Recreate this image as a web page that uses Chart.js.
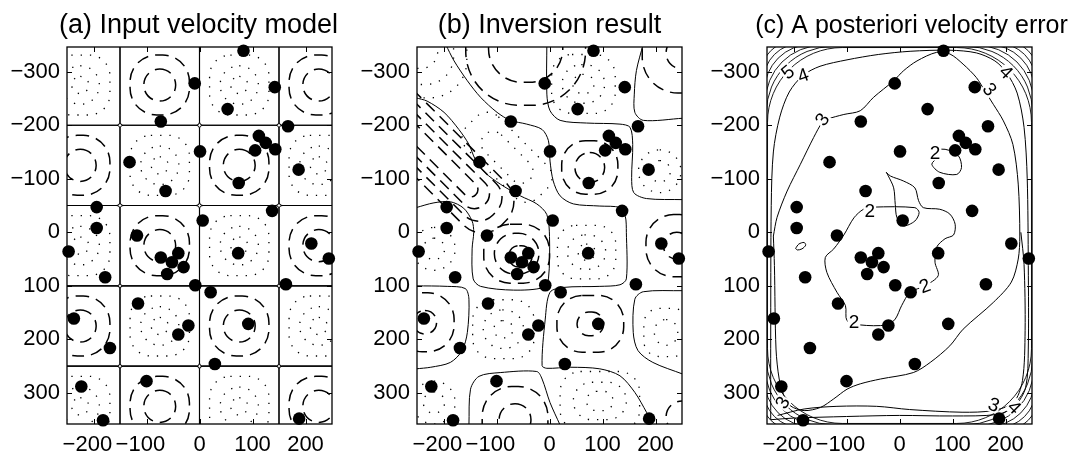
<!DOCTYPE html>
<html>
<head>
<meta charset="utf-8">
<script src="https://cdn.jsdelivr.net/npm/chart.js@4.4.1/dist/chart.umd.min.js"></script>
<style>
  html, body { margin: 0; padding: 0; background: #fff; }
  #wrap { position: relative; width: 1076px; height: 460px; }
  canvas { position: absolute; top: 0; }
</style>
</head>
<body>
<div id="wrap">
  <canvas id="panelA" width="350" height="460" style="left:0"></canvas>
  <canvas id="panelB" width="350" height="460" style="left:350px"></canvas>
  <canvas id="panelC" width="376" height="460" style="left:700px"></canvas>
</div>
<script>
// axes
var xTicks = [-200, -100, 0, 100, 200];
var yTicks = [-300, -200, -100, 0, 100, 200, 300];
var xRange = [-250, 250];
var yRange = [-346, 358];

// station positions (same in all three panels)
var stationX = [83, -9, 142, 53, -73, 167, 112, 125, 143, 105, 1, -132, 187, 74, -64, -194, 137, 6, -194, -118,
                -247, 211, 244, 73, -40, -73, -52, -30, -61, -178, -8, 163, 21, -116, -237, -21, 92, -40, -169, 29,
                -100, -223, -182, 188];
var stationY = [-339, -278, -271, -230, -207, -198, -180, -167, -155, -153, -151, -131, -117, -92, -77, -47, -40, -22, -8, 6,
                36, 21, 49, 39, 39, 47, 56, 65, 78, 84, 99, 97, 112, 133, 161, 174, 171, 191, 216, 246,
                278, 288, 351, 348];

// (a) checkerboard model: cell centres, cell edges, contour radii
var cellX = [-225, -75, 75, 225];
var cellY = [-275, -125, 25, 175, 325];
var cellEdgeX = [-300, -150, 0, 150, 300];
var cellEdgeY = [-350, -200, -50, 100, 250, 400];
var slowRadii = [30, 56];
var fastRadii = [16, 36, 56];

// (b) inversion result: zero contours
var bZero1 = [[-196,-351],[-180,-320],[-155,-283],[-130,-252],[-99,-224],[-74,-209],[-43,-202],[-14,-192],[-2,-171],[1,-133],
              [7,-96],[20,-68],[45,-53],[95,-49],[133,-46],[143,-30],[145,0],[145,87],[133,98],[95,101],[26,103],[1,112],
              [-8,162],[-14,249],[-5,254],[39,252],[95,255],[133,268],[161,299],[183,336],[196,360]];
var bZero2 = [[-5,-352],[-5,-258],[1,-227],[20,-209],[70,-204],[133,-202],[152,-196],[157,-164],[155,-102],[159,-74],[183,-63],[252,-61]];
var bZero3 = [[177,-352],[164,-302],[160,-258],[161,-224],[177,-209],[252,-213]];
var bZero4 = [[-252,-251],[-231,-245],[-199,-224],[-171,-192],[-152,-164],[-140,-136],[-121,-111],[-93,-90],[-55,-68],[-24,-53],
              [-5,-33],[0,8],[-2,87],[-11,103],[-68,108],[-130,101],[-144,87],[-146,31],[-143,0],[-146,-21],[-162,-45],
              [-187,-57],[-218,-55],[-252,-46]];
var bZero5 = [[-252,100],[-193,101],[-159,105],[-152,125],[-155,187],[-165,221],[-187,243],[-224,252],[-252,255]];
var bZero6 = [[-152,360],[-149,293],[-133,269],[-93,262],[-24,260],[-14,274],[1,318],[20,360]];
var bZero7 = [[252,109],[177,111],[161,125],[158,187],[167,221],[195,243],[252,265]];
// (b) negative (dashed) and positive (dotted) closed contours: x, y, rx, ry, rotation
var bSlowRings = [[-210,-140,175,56,45],[-210,-140,150,42,45],[-210,-140,125,28,45],[-210,-140,100,14,45],
                  [-45,-350,113,113,0],[-45,-350,70,70,0],
                  [250,-335,75,75,0],[250,-335,30,30,0],
                  [76,-121,53,50,0],[76,-121,28,28,0],
                  [-62,40,62,55,0],[-62,40,42,38,0],[-55,45,22,20,0],
                  [77,171,63,53,0],[77,171,25,22,0],
                  [-235,168,55,55,0],[-235,168,22,22,0],
                  [-65,350,62,62,0],[-65,350,30,30,0],
                  [240,25,58,58,0],[240,25,25,25,0],
                  [250,345,30,30,0]];
var bFastRings = [[64,-277,60,55,0],[64,-277,40,36,0],[64,-277,20,18,0],
                  [-256,-351,100,100,0],[-256,-351,75,75,0],[-256,-351,45,45,0],
                  [-80,-140,95,42,45],[-80,-140,60,22,45],
                  [208,-114,40,40,0],[208,-114,20,20,0],
                  [70,37,55,50,0],[70,37,36,32,0],[70,37,16,15,0],
                  [-87,181,58,55,0],[-87,181,38,36,0],[-87,181,18,16,0],
                  [220,187,42,45,0],[220,187,22,24,0],
                  [-218,31,40,40,0],[-218,31,20,20,0],
                  [-218,318,40,40,0],[-218,318,20,20,0],
                  [95,315,75,55,0],[95,315,50,35,0],[95,315,25,18,0]];

// (c) a posteriori error contours
var cLevel2a = [[58,-152],[86,-155],[111,-143],[117,-121],[108,-108],[76,-112],[61,-127],[70,-140],[58,-152]];
var cLevel2b = [[-25,-112],[-17,-105],[7,-96],[29,-83],[36,-59],[45,-46],[76,-43],[95,-34],[105,-15],[102,5],[86,12],
                [70,28],[67,56],[73,81],[48,100],[20,112],[4,137],[-8,162],[-24,173],[-74,173],[-99,165],[-102,137],
                [-118,112],[-137,75],[-140,47],[-124,31],[-105,5],[-86,-27],[-68,-43],[-49,-47],[29,-46],[37,-37],
                [29,-21],[7,-12],[-5,-28],[-8,-52],[-11,-83],[-21,-105],[-25,-112]];
var cLevel2c = [[-196,30],[-190,22],[-180,19],[-177,24],[-184,31],[-193,33],[-196,30]];
var cLevel3 = [[-238,7],[-231,-28],[-212,-77],[-187,-127],[-162,-177],[-146,-205],[-137,-211],[-105,-220],[-74,-227],
               [-49,-252],[-11,-283],[8,-302],[33,-320],[70,-336],[95,-333],[120,-314],[145,-289],[161,-264],[177,-239],
               [196,-208],[214,-164],[224,-90],[227,7],[224,50],[211,93],[177,131],[120,181],[95,212],[58,243],[26,262],
               [-36,274],[-74,283],[-99,293],[-124,311],[-149,327],[-180,333],[-206,324],[-218,305],[-227,274],
               [-233,218],[-236,62],[-238,7]];
var cLevel3b = [[-230,342],[-180,330],[-118,325],[-43,325],[19,331],[118,336],[175,333],[215,318],[232,277],[237,183],
                [235,60],[229,0]];
var cLevel4 = [[-243,350],[-243,200],[-242,-50],[-238,-150],[-226,-215],[-208,-262],[-182,-293],[-150,-310],[-99,-322],
               [-40,-332],[20,-338],[95,-340],[145,-335],[180,-320],[202,-298],[222,-260],[235,-196],[241,-100],
               [243,62],[243,218],[238,290],[217,325],[185,340],[100,343],[0,342],[-100,344],[-200,347],[-243,350]];
var cEdgeInset = [1, -1, -3, -5, -7, -9];
var cEdgeRadius = [141, 124, 107, 89, 72, 55];
var cLabels = [['2',67,-149,0],['2',-56,-40,0],['2',48,100,-20],['2',-86,167,0],
               ['3',-146,-211,-55],['3',170,-267,50],['3',-221,318,-60],['3',178,322,20],
               ['4',-182,-293,-20],['4',201,-299,45],['4',217,327,45],['5',-211,-299,-40]];

var titles = ['(a) Input velocity model', '(b) Inversion result', '(c) A posteriori velocity error'];

var family = '"Liberation Sans", Arial, Helvetica, sans-serif';
var lineStyles = {
    solid:  { width: 1.1, dash: [] },
    thin:   { width: 0.9, dash: [] },
    dashed: { width: 1.5, dash: [12, 7] },
    dotted: { width: 1.3, dash: [1.3, 8] }
};

function roundedRect(ctx, x, y, w, h, r) {
    r = Math.min(r, w / 2, h / 2);
    ctx.moveTo(x + r, y);
    ctx.arcTo(x + w, y, x + w, y + h, r);
    ctx.arcTo(x + w, y + h, x, y + h, r);
    ctx.arcTo(x, y + h, x, y, r);
    ctx.arcTo(x, y, x + w, y, r);
    ctx.closePath();
}

function ringShape(r, style) {
    var m = Math.min(r[2], r[3]);
    var k = m <= 40 ? 1 : (style === 'dashed' ? 0.9 : 0.7);
    return { x: r[0], y: r[1], rx: r[2], ry: r[3], rot: r[4], corner: m * k, style: style };
}

// contours, frame, ticks and title drawn through the chart's scales
function panelLayer(spec) {
    return {
        id: 'panelLayer',
        beforeDatasetsDraw: function (chart) {
            var ctx = chart.ctx, a = chart.chartArea;
            var sx = chart.scales.x, sy = chart.scales.y;
            var len = function (v, s) { return Math.abs(s.getPixelForValue(v) - s.getPixelForValue(0)); };
            ctx.save();
            ctx.beginPath();
            ctx.rect(a.left, a.top, a.right - a.left, a.bottom - a.top);
            ctx.clip();
            ctx.strokeStyle = '#000';
            spec.shapes.forEach(function (sh) {
                var st = lineStyles[sh.style];
                ctx.beginPath();
                ctx.save();
                ctx.translate(sx.getPixelForValue(sh.x), sy.getPixelForValue(sh.y));
                ctx.rotate((sh.rot || 0) * Math.PI / 180);
                var w = len(sh.rx, sx), h = len(sh.ry, sy);
                roundedRect(ctx, -w, -h, 2 * w, 2 * h, len(sh.corner, sx));
                ctx.restore();
                ctx.lineWidth = st.width;
                ctx.setLineDash(st.dash);
                ctx.stroke();
            });
            ctx.restore();

            // frame with inward ticks
            ctx.save();
            ctx.strokeStyle = '#000';
            ctx.setLineDash([]);
            ctx.lineWidth = 1.3;
            ctx.strokeRect(a.left, a.top, a.right - a.left, a.bottom - a.top);
            ctx.lineWidth = 1;
            ctx.beginPath();
            xTicks.forEach(function (v) {
                var p = Math.round(sx.getPixelForValue(v)) + 0.5;
                ctx.moveTo(p, a.bottom); ctx.lineTo(p, a.bottom - 5);
                ctx.moveTo(p, a.top); ctx.lineTo(p, a.top + 5);
            });
            yTicks.forEach(function (v) {
                var p = Math.round(sy.getPixelForValue(v)) + 0.5;
                ctx.moveTo(a.left, p); ctx.lineTo(a.left + 5, p);
                ctx.moveTo(a.right, p); ctx.lineTo(a.right - 5, p);
            });
            ctx.stroke();
            ctx.restore();
        },
        beforeDatasetDraw: function (chart, args) {
            // contour labels go under the station dots (dataset 0)
            if (args.index !== 0 || !spec.labels) return;
            var ctx = chart.ctx, sx = chart.scales.x, sy = chart.scales.y;
            ctx.save();
            ctx.font = '19px ' + family;
            ctx.textAlign = 'center';
            ctx.textBaseline = 'middle';
            spec.labels.forEach(function (l) {
                ctx.save();
                ctx.translate(sx.getPixelForValue(l[1]), sy.getPixelForValue(l[2]));
                ctx.rotate(l[3] * Math.PI / 180);
                var w = ctx.measureText(l[0]).width;
                ctx.fillStyle = '#fff';
                ctx.fillRect(-w / 2 - 1, -8, w + 2, 16);
                ctx.fillStyle = '#000';
                ctx.fillText(l[0], 0, 1);
                ctx.restore();
            });
            ctx.restore();
        },
        afterDraw: function (chart) {
            var ctx = chart.ctx, a = chart.chartArea;
            ctx.save();
            ctx.font = spec.titleSize + 'px ' + family;
            ctx.fillStyle = '#000';
            ctx.textAlign = 'center';
            ctx.textBaseline = 'alphabetic';
            ctx.fillText(spec.title, (a.left + a.right) / 2 + spec.titleShift, 33);
            ctx.restore();
        }
    };
}

function toPoints(pairs) {
    return pairs.map(function (p) { return { x: p[0], y: p[1] }; });
}

function contourLine(pairs) {
    return {
        data: toPoints(pairs),
        showLine: true,
        pointRadius: 0,
        borderColor: '#000',
        borderWidth: 1,
        tension: 0.3
    };
}

function minusLabel(v, pad) {
    return v < 0 ? '\u2212' + Math.abs(v) + pad : String(v);
}

function makePanel(id, lines, spec, rightPad) {
    var stations = {
        data: stationX.map(function (x, i) { return { x: x, y: stationY[i] }; }),
        pointRadius: 6.3,
        pointBackgroundColor: '#000',
        pointBorderWidth: 0,
        showLine: false,
        clip: false
    };
    var tickFont = { family: family, size: 22 };
    return new Chart(id, {
        type: 'scatter',
        data: { datasets: [stations].concat(lines) },
        options: {
            responsive: false,
            animation: false,
            events: [],
            layout: { padding: { top: 47, right: rightPad, left: 0, bottom: 0 } },
            plugins: { legend: { display: false }, tooltip: { enabled: false } },
            scales: {
                x: {
                    type: 'linear', min: xRange[0], max: xRange[1],
                    afterBuildTicks: function (ax) { ax.ticks = xTicks.map(function (v) { return { value: v }; }); },
                    afterFit: function (s) { s.height = 36; },
                    grid: { display: false, drawTicks: false },
                    border: { display: false },
                    ticks: { padding: 8, color: '#000', font: tickFont, maxRotation: 0, autoSkip: false,
                             callback: function (v) { return minusLabel(v, '  '); } }
                },
                y: {
                    type: 'linear', reverse: true, min: yRange[0], max: yRange[1],
                    afterBuildTicks: function (ax) { ax.ticks = yTicks.map(function (v) { return { value: v }; }); },
                    afterFit: function (s) { s.width = 67; },
                    grid: { display: false, drawTicks: false },
                    border: { display: false },
                    ticks: { padding: 7, color: '#000', font: tickFont, autoSkip: false,
                             callback: function (v) { return minusLabel(v, ''); } }
                }
            }
        },
        plugins: [panelLayer(spec)]
    });
}

// (a) cells: zero contour round every cell, dashed rings in slow cells, dotted in fast ones
var shapesA = [];
for (var i = 0; i < cellEdgeX.length - 1; i++) {
    for (var j = 0; j < cellEdgeY.length - 1; j++) {
        shapesA.push({ x: (cellEdgeX[i] + cellEdgeX[i + 1]) / 2, y: (cellEdgeY[j] + cellEdgeY[j + 1]) / 2,
                       rx: (cellEdgeX[i + 1] - cellEdgeX[i]) / 2, ry: (cellEdgeY[j + 1] - cellEdgeY[j]) / 2,
                       rot: 0, corner: 7, style: 'solid' });
    }
}
cellX.forEach(function (cx, i) {
    cellY.forEach(function (cy, j) {
        var slow = (i + j) % 2 === 1;
        (slow ? slowRadii : fastRadii).forEach(function (r) {
            shapesA.push(ringShape([cx, cy, r, r, 0], slow ? 'dashed' : 'dotted'));
        });
    });
});

var shapesB = bSlowRings.map(function (r) { return ringShape(r, 'dashed'); })
    .concat(bFastRings.map(function (r) { return ringShape(r, 'dotted'); }));

var shapesC = cEdgeInset.map(function (d, i) {
    return { x: (xRange[0] + xRange[1]) / 2, y: (yRange[0] + yRange[1]) / 2,
             rx: (xRange[1] - xRange[0]) / 2 - d, ry: (yRange[1] - yRange[0]) / 2 - d,
             rot: 0, corner: cEdgeRadius[i], style: 'thin' };
});

makePanel('panelA', [], { shapes: shapesA, title: titles[0], titleShift: -1, titleSize: 27 }, 18);
makePanel('panelB', [bZero1, bZero2, bZero3, bZero4, bZero5, bZero6, bZero7].map(contourLine),
          { shapes: shapesB, title: titles[1], titleShift: 0, titleSize: 27 }, 18);
makePanel('panelC', [cLevel2a, cLevel2b, cLevel2c, cLevel3, cLevel3b, cLevel4].map(contourLine),
          { shapes: shapesC, labels: cLabels, title: titles[2], titleShift: 12, titleSize: 25 }, 44);
</script>
</body>
</html>
